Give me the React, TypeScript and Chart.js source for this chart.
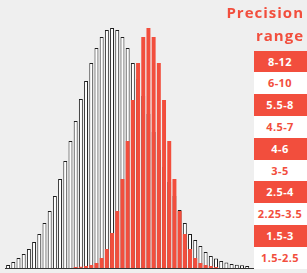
import React, { useEffect, useRef } from "react";
import { Chart, registerables } from "chart.js";

Chart.register(...registerables);

const bins = [
  "0", "1", "2", "3", "4", "5", "6", "7", "8", "9", "10", "11",
  "12", "13", "14", "15", "16", "17", "18", "19", "20", "21", "22", "23",
  "24", "25", "26", "27", "28", "29", "30", "31", "32", "33", "34", "35",
  "36", "37", "38", "39", "40", "41", "42", "43", "44", "45", "46", "47",
];

const wideCounts = [
  3, 6, 10, 14, 19, 26, 34, 45, 57, 72, 89, 107,
  127, 147, 169, 187, 205, 220, 231, 238, 240, 238, 231, 220,
  205, 189, 172, 154, 136, 118, 101, 86, 72, 58, 45, 34,
  28, 22, 16, 12, 9.5, 7, 5.5, 4, 3.3, 2.7, 2, 0,
];

const narrowCounts = [
  0, 0, 0, 0, 0, 0, 0, 0, 0, 0, 0, 0,
  0, 1, 1.3, 2, 3, 5, 10, 19, 35, 57, 89, 127,
  168, 205, 231, 240, 231, 205, 168, 127, 89, 57, 34, 19,
  10, 5, 3, 2, 1, 0, 0, 0, 0, 0, 0, 0,
];

const legendTitle = ["Precision", "range"];
const precisionRanges = [
  "8-12", "6-10", "5.5-8", "4.5-7", "4-6",
  "3-5", "2.5-4", "2.25-3.5", "1.5-3", "1.5-2.5",
];

const RED = "#f24e3d";
const BG = "#efefef";
const FONT = "'Open Sans', sans-serif";

export default function App() {
  const canvasRef = useRef<HTMLCanvasElement | null>(null);

  useEffect(() => {
    const canvas = canvasRef.current;
    if (!canvas) return;
    const chart = new Chart(canvas, {
      type: "bar",
      data: {
        labels: bins,
        datasets: [
          {
            label: "narrow",
            data: narrowCounts,
            backgroundColor: RED,
            borderWidth: 0,
            grouped: false,
            order: 0,
            barPercentage: 0.76,
            categoryPercentage: 1,
            inflateAmount: 0,
          },
          {
            label: "wide",
            data: wideCounts,
            backgroundColor: "#ffffff",
            borderColor: "#1c1c1c",
            borderWidth: 1,
            grouped: false,
            order: 1,
            barPercentage: 0.76,
            categoryPercentage: 1,
            inflateAmount: 0,
          },
        ],
      },
      options: {
        animation: false,
        responsive: false,
        maintainAspectRatio: false,
        layout: { padding: { left: 5.5, right: 52, top: 0, bottom: 5 } },
        plugins: {
          legend: { display: false },
          tooltip: { enabled: false },
          title: { display: false },
        },
        scales: {
          x: {
            display: true,
            grid: { display: false, drawTicks: false },
            ticks: { display: false },
            border: { display: true, color: "#333333", width: 1 },
          },
          y: {
            display: false,
            min: 0,
            max: 268,
          },
        },
      },
    });
    return () => chart.destroy();
  }, []);

  return (
    <div
      style={{
        position: "fixed",
        left: 0,
        top: 0,
        width: 307,
        height: 273,
        background: BG,
        overflow: "hidden",
        fontFamily: FONT,
      }}
    >
      <canvas
        ref={canvasRef}
        width={307}
        height={273}
        style={{ position: "absolute", left: 0, top: 0, width: 307, height: 273 }}
      />
      <div
        style={{
          position: "absolute",
          right: 3,
          top: 1,
          textAlign: "right",
          color: RED,
          fontWeight: 700,
          fontSize: 15,
          letterSpacing: 1,
          lineHeight: "23px",
        }}
      >
        {legendTitle.map((t) => (
          <div key={t}>{t}</div>
        ))}
      </div>
      <div style={{ position: "absolute", left: 254, top: 50.7, width: 53 }}>
        {precisionRanges.map((r, i) => (
          <div
            key={r}
            style={{
              height: 21.8,
              lineHeight: "21.8px",
              textAlign: "center",
              paddingRight: 1,
              background: i % 2 === 0 ? RED : "#ffffff",
              color: i % 2 === 0 ? "#ffffff" : RED,
              fontWeight: 700,
              fontSize: 11,
              letterSpacing: 0.4,
            }}
          >
            {r}
          </div>
        ))}
      </div>
    </div>
  );
}
